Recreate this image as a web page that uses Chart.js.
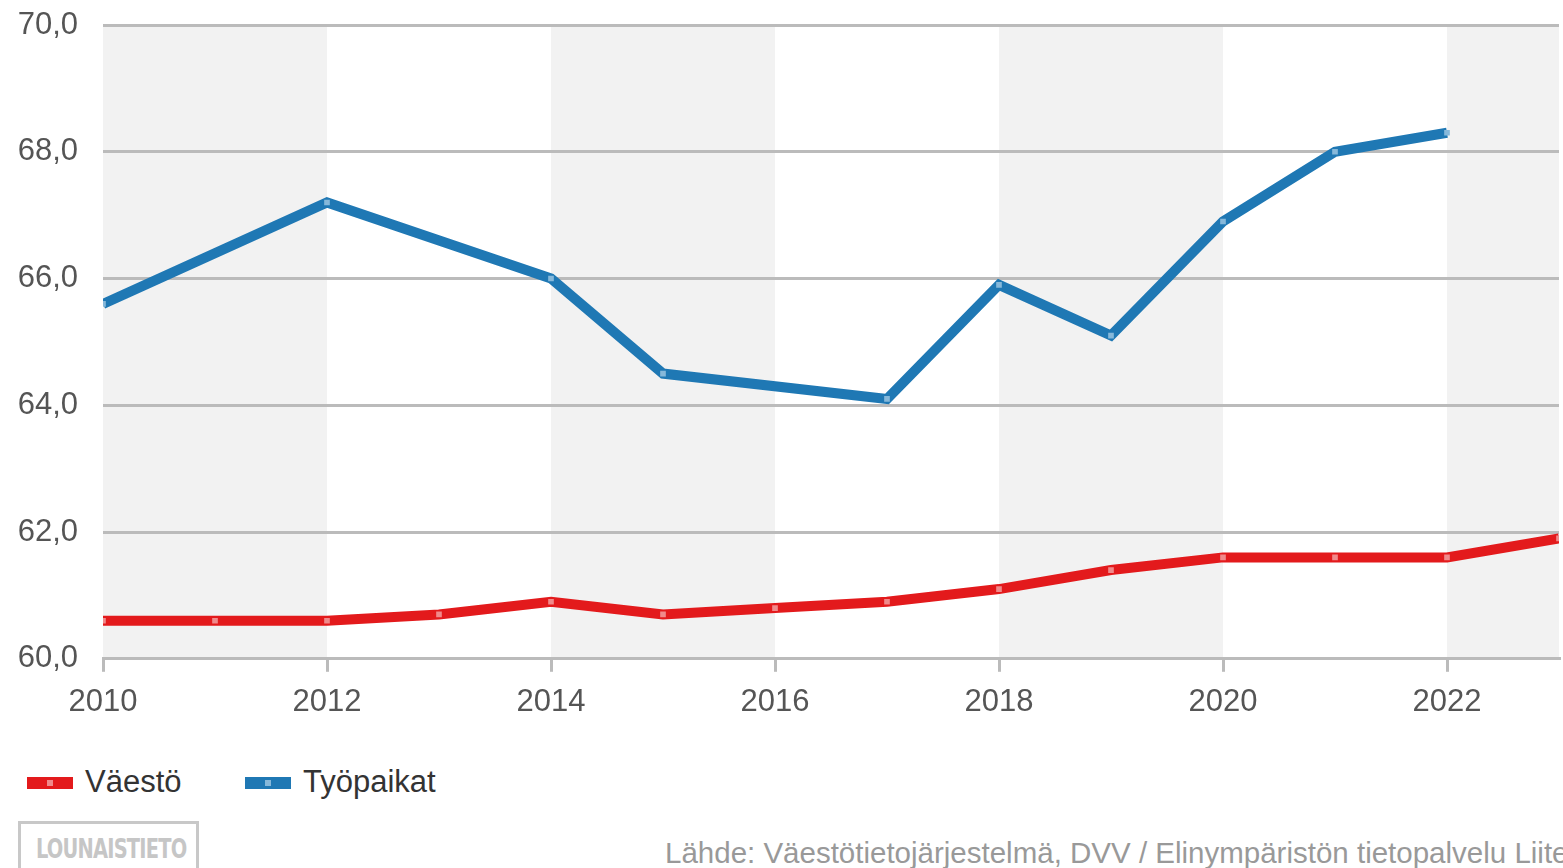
<!DOCTYPE html>
<html>
<head>
<meta charset="utf-8">
<script src="https://cdn.jsdelivr.net/npm/chart.js@4"></script>
<style>
  body { margin: 0; background: #fff; width: 1563px; height: 868px; overflow: hidden; position: relative; font-family: Arial, "Liberation Sans", sans-serif; }
  #wrap { position: absolute; left: 0; top: 0; width: 1563px; height: 740px; }
  .leg { position: absolute; top: 762px; font-size: 31px; color: #333; line-height: 40px; white-space: nowrap; }
  .leg i { position: absolute; top: 15px; width: 46px; height: 12px; }
  .leg i b { position: absolute; left: 20px; top: 3px; width: 6px; height: 6px; }
  .leg span { position: absolute; left: 58px; top: 0; }
  #logo { position: absolute; left: 18px; top: 821px; width: 181px; height: 60px; border: 3px solid #c8c8c8; box-sizing: border-box; }
  #logo span { position: absolute; left: 15px; top: 9px; font-family: "Liberation Sans Narrow", "DejaVu Sans Condensed", sans-serif; font-size: 27px; color: #c6c6c6; font-weight: bold; letter-spacing: -1px; transform: scaleX(0.8); transform-origin: left top; white-space: nowrap; }
  #source { position: absolute; left: 665px; top: 836px; font-size: 29.5px; color: #999; white-space: nowrap; }
</style>
</head>
<body>
<div id="wrap"><canvas id="chart"></canvas></div>
<div class="leg" style="left:27px"><i style="background:#e31a1c"><b style="background:#f08a8b"></b></i><span>Väestö</span></div>
<div class="leg" style="left:245px"><i style="background:#1f78b4"><b style="background:#86b8da"></b></i><span>Työpaikat</span></div>
<div id="logo"><span>LOUNAISTIETO</span></div>
<div id="source">Lähde: Väestötietojärjestelmä, DVV / Elinympäristön tietopalvelu Liiteri</div>
<script>
const years = [2010, 2011, 2012, 2013, 2014, 2015, 2016, 2017, 2018, 2019, 2020, 2021, 2022, 2023];
const vaesto = [60.6, 60.6, 60.6, 60.7, 60.9, 60.7, 60.8, 60.9, 61.1, 61.4, 61.6, 61.6, 61.6, 61.9];
const tyopaikat = [65.6, null, 67.2, null, 66.0, 64.5, null, 64.1, 65.9, 65.1, 66.9, 68.0, 68.3, null];
const seriesNames = ["Väestö", "Työpaikat"];
const yTicks = [60, 62, 64, 66, 68, 70];

const gridColor = "#bbbbbb";
const textColor = "#555555";

// grey band on every other 2-year interval, from the x scale ticks
const bands = {
  id: "bands",
  beforeDraw(chart) {
    const { ctx, chartArea: a, scales: { x } } = chart;
    const ticks = x.ticks;
    ctx.save();
    ctx.fillStyle = "#f2f2f2";
    for (let i = 0; i < ticks.length; i += 2) {
      const x0 = x.getPixelForValue(ticks[i].value);
      const x1 = i + 1 < ticks.length ? x.getPixelForValue(ticks[i + 1].value) : a.right;
      ctx.fillRect(x0, a.top, x1 - x0, a.bottom - a.top);
    }
    ctx.restore();
  },
};

function toPoints(values) {
  return years.map((y, i) => ({ x: y, y: values[i] }));
}

new Chart(document.getElementById("chart"), {
  type: "line",
  data: {
    datasets: [
      {
        label: seriesNames[0],
        data: toPoints(vaesto),
        borderColor: "#e31a1c",
        pointBackgroundColor: "#f08a8b",
      },
      {
        label: seriesNames[1],
        data: toPoints(tyopaikat),
        borderColor: "#1f78b4",
        pointBackgroundColor: "#86b8da",
      },
    ],
  },
  options: {
    responsive: true,
    maintainAspectRatio: false,
    animation: false,
    spanGaps: true,
    layout: { padding: { top: 25, bottom: 7, left: 0, right: 0 } },
    elements: {
      line: { borderWidth: 10, tension: 0 },
      point: { pointStyle: "rect", radius: 4, borderWidth: 0, hoverRadius: 4 },
    },
    plugins: { legend: { display: false }, tooltip: { enabled: false } },
    scales: {
      x: {
        type: "linear",
        min: years[0],
        max: years[years.length - 1],
        afterFit: (s) => { s.paddingLeft = 0; s.paddingRight = 0; },
        grid: { drawOnChartArea: false, color: gridColor, lineWidth: 3, tickLength: 13 },
        border: { color: gridColor, width: 3 },
        ticks: {
          stepSize: 2,
          includeBounds: false,
          padding: 12,
          color: textColor,
          font: { size: 31, family: "Arial, 'Liberation Sans', sans-serif" },
          callback: (v) => String(v),
        },
      },
      y: {
        min: yTicks[0],
        max: yTicks[yTicks.length - 1],
        afterFit: (s) => { s.width = 103; s.paddingTop = 0; s.paddingBottom = 0; },
        afterBuildTicks: (s) => { s.ticks = yTicks.map((v) => ({ value: v })); },
        grid: { color: gridColor, lineWidth: 3, drawTicks: false },
        border: { display: false },
        ticks: {
          padding: 25,
          color: textColor,
          font: { size: 31, family: "Arial, 'Liberation Sans', sans-serif" },
          callback: (v) => v.toFixed(1).replace(".", ","),
        },
      },
    },
  },
  plugins: [bands],
});
</script>
</body>
</html>
